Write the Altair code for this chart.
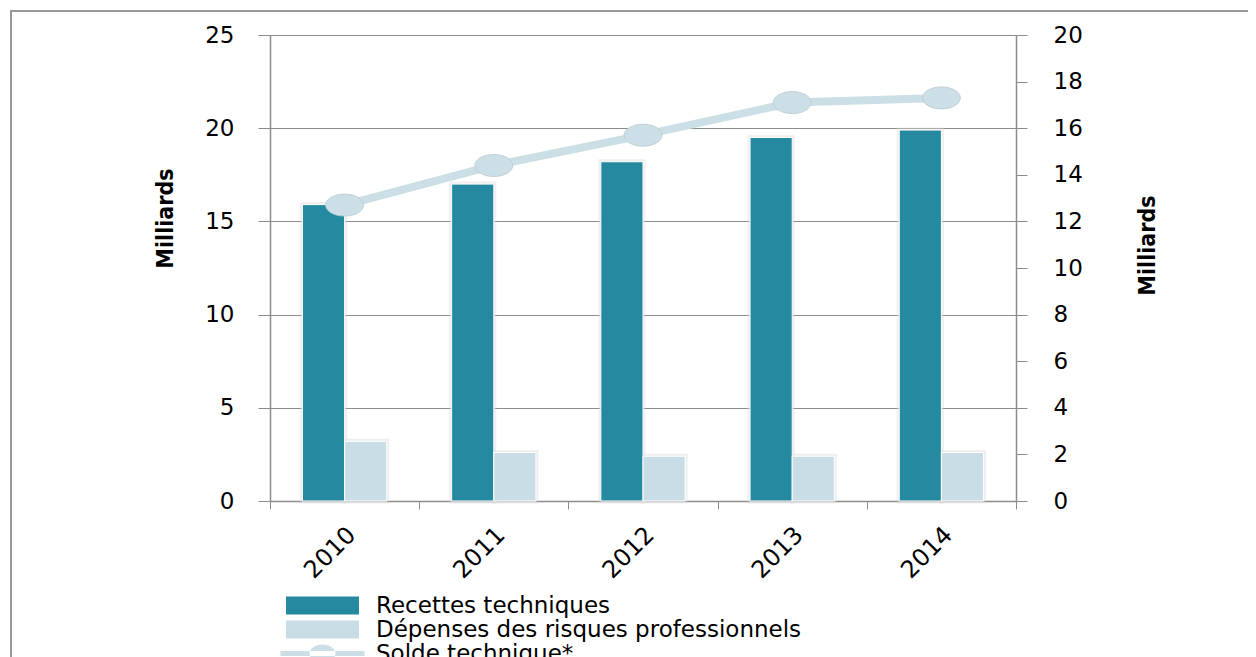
import altair as alt
import pandas as pd

years = ["2010", "2011", "2012", "2013", "2014"]
recettes = [15.9, 17.0, 18.2, 19.5, 19.9]
depenses = [3.2, 2.6, 2.4, 2.4, 2.6]
solde = [12.7, 14.4, 15.7, 17.1, 17.3]
series = ["Recettes techniques", "Dépenses des risques professionnels", "Solde technique*"]
colors = ["#25899F", "#C9DDE6", "#CCDFE7"]
left_ticks = [0, 5, 10, 15, 20, 25]
right_ticks = [0, 2, 4, 6, 8, 10, 12, 14, 16, 18, 20]

bar_rows = []
for i, y in enumerate(years):
    bar_rows.append({"year": y, "serie": series[0], "value": recettes[i]})
    bar_rows.append({"year": y, "serie": series[1], "value": depenses[i]})
bar_df = pd.DataFrame(bar_rows)
line_df = pd.DataFrame({"year": years, "value": solde, "serie": series[2]})

GRAY = "#8c8c8c"
BAR_PATH = "M-3.65,-0.9H3.65V0.9H-3.65Z"
LINE_PATH = "M-4.2,-0.25H4.2V0.25H-4.2Z M-1.3,0A1.3,0.9,0,1,0,1.3,0A1.3,0.9,0,1,0,-1.3,0Z"
ELLIPSE = "M-1,0A1,0.58,0,1,0,1,0A1,0.58,0,1,0,-1,0Z"
TITLE_FONT = "'DejaVu Sans Condensed', 'Liberation Sans', sans-serif"

legend = alt.Legend(
    title=None,
    orient="none",
    legendX=41,
    legendY=559,
    symbolSize=400,
    symbolType=alt.ExprRef(expr="datum.value === 'Solde technique*' ? '" + LINE_PATH + "' : '" + BAR_PATH + "'"),
    symbolStrokeWidth=0,
    symbolOpacity=1,
    labelFont="DejaVu Sans",
    labelFontSize=23,
    labelColor="black",
    labelOffset=42,
    labelLimit=800,
    rowPadding=0,
    padding=0,
)

color = alt.Color("serie:N", scale=alt.Scale(domain=series, range=colors), legend=legend)

x_enc = alt.X(
    "year:N",
    scale=alt.Scale(paddingInner=0, paddingOuter=0),
    axis=alt.Axis(
        title=None,
        tickBand="extent",
        tickSize=8,
        tickColor=GRAY,
        domainColor=GRAY,
        domainWidth=1.5,
        labelAngle=315,
        labelAlign="right",
        labelBaseline="middle",
        labelPadding=22,
        labelOffset=7,
        labelFont="DejaVu Sans",
        labelFontSize=24,
        labelColor="black",
        grid=False,
    ),
)
x_off = alt.XOffset("serie:N", scale=alt.Scale(domain=series[:2], paddingOuter=0.77, paddingInner=0))

y_left = alt.Y(
    "value:Q",
    scale=alt.Scale(domain=[0, 25]),
    axis=alt.Axis(
        values=left_ticks,
        grid=True,
        gridColor=GRAY,
        gridWidth=1,
        domainColor=GRAY,
        domainWidth=1.5,
        tickColor=GRAY,
        tickSize=12,
        labelFont="DejaVu Sans",
        labelFontSize=23,
        labelColor="black",
        labelPadding=24,
        title="Milliards",
        titleFont=TITLE_FONT,
        titleFontSize=23,
        titleFontWeight="bold",
        titleColor="black",
        titleAngle=270,
        titleX=-105,
        titleY=183,
        titleAlign="center",
        titleBaseline="middle",
    ),
)

halo = alt.Chart(bar_df).mark_bar(
    fill="#d6d6d6", stroke="#d6d6d6", strokeWidth=5, strokeOpacity=0.4, fillOpacity=0.4
).encode(x=x_enc, xOffset=x_off, y=y_left)

bars = alt.Chart(bar_df).mark_bar(stroke="white", strokeWidth=1).encode(
    x=x_enc, xOffset=x_off, y=y_left, color=color
)

y_right = alt.Y(
    "value:Q",
    scale=alt.Scale(domain=[0, 20]),
    axis=alt.Axis(
        orient="right",
        values=right_ticks,
        grid=False,
        domainColor=GRAY,
        domainWidth=1.5,
        tickColor=GRAY,
        tickSize=11,
        labelFont="DejaVu Sans",
        labelFontSize=23,
        labelColor="black",
        labelPadding=26,
        title="Milliards",
        titleFont=TITLE_FONT,
        titleFontSize=23,
        titleFontWeight="bold",
        titleColor="black",
        titleAngle=270,
        titleX=131,
        titleY=210,
        titleAlign="center",
        titleBaseline="middle",
    ),
)

line = alt.Chart(line_df).mark_line(strokeWidth=8).encode(x=x_enc, y=y_right, color=color)
points = alt.Chart(line_df).mark_point(
    filled=True, shape=ELLIPSE, size=1444, opacity=1, stroke="#b9c9d0", strokeWidth=0.8
).encode(x=x_enc, y=y_right, color=color)

frame = alt.Chart(pd.DataFrame({"k": [0]})).mark_rect(fill="transparent", stroke="#999999", strokeWidth=2).encode(
    x=alt.value(-259), x2=alt.value(1000), y=alt.value(-24), y2=alt.value(660)
)

chart = (
    alt.layer(frame, alt.layer(halo, bars), alt.layer(line, points))
    .resolve_scale(y="independent")
    .properties(
        width=746,
        height=466,
        autosize=alt.AutoSizeParams(type="none"),
        padding={"left": 262, "top": 27, "right": 232, "bottom": 156},
    )
    .configure_view(strokeWidth=0)
)

chart.save("out.html", embed_options={"renderer": "svg", "actions": False})
